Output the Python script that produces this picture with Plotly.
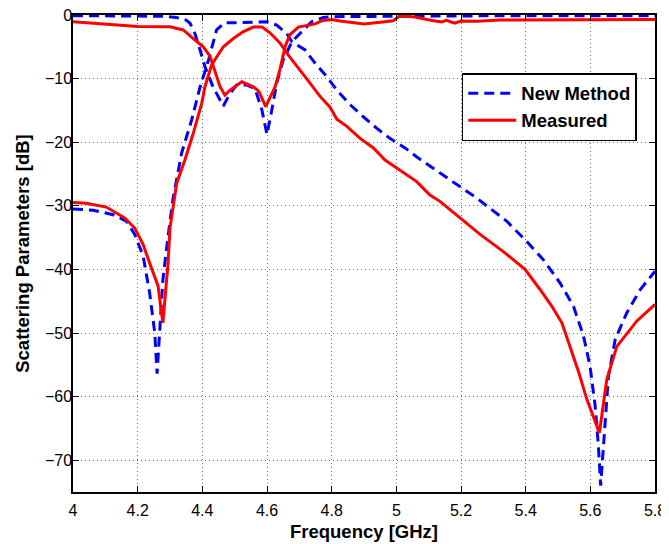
import plotly.graph_objects as go

# New Method (simulated) reflection S11
new_s11_f = [4.00, 4.10, 4.20, 4.28, 4.32, 4.35, 4.362, 4.377, 4.393, 4.408, 4.433, 4.465,
             4.486, 4.506, 4.537, 4.563, 4.584, 4.600, 4.615, 4.630, 4.650, 4.677, 4.712,
             4.738, 4.774, 4.80, 5.00, 5.20, 5.40, 5.60, 5.80]
new_s11_db = [-0.1, -0.1, -0.1, -0.2, -0.4, -0.8, -1.3, -2.9, -5.5, -8.1, -11.3, -14.3,
              -12.3, -11.0, -11.0, -11.6, -14.9, -18.8, -14.9, -10.7, -7.1, -4.2, -2.4,
              -1.05, -0.4, -0.26, -0.2, -0.1, -0.1, -0.1, -0.1]

# New Method transmission S21
new_s21_f = [4.00, 4.062, 4.124, 4.165, 4.191, 4.217, 4.237, 4.253, 4.260, 4.270, 4.278,
             4.294, 4.309, 4.336, 4.367, 4.393, 4.419, 4.444, 4.470, 4.52, 4.60, 4.63,
             4.661, 4.677, 4.718, 4.749, 4.785, 4.816, 4.857, 4.898, 4.939, 4.98, 5.027,
             5.068, 5.114, 5.156, 5.202, 5.249, 5.295, 5.341, 5.403, 5.455, 5.506, 5.548,
             5.579, 5.599, 5.615, 5.625, 5.632, 5.640, 5.656, 5.677, 5.713, 5.754, 5.80]
new_s21_db = [-30.5, -30.7, -31.4, -32.4, -34.5, -37.9, -43.7, -50.0, -56.4, -48.9, -41.6,
              -34.8, -29.0, -21.7, -16.5, -11.3, -7.1, -2.35, -1.2, -1.2, -1.05, -1.6,
              -2.9, -4.2, -5.5, -7.6, -9.7, -11.8, -14.1, -16.0, -17.8, -19.4, -20.9,
              -22.5, -24.1, -25.6, -27.2, -28.8, -30.6, -32.4, -35.6, -38.5, -42.1, -45.8,
              -50.5, -55.2, -61.5, -67.8, -74.0, -68.3, -56.8, -51.0, -46.8, -43.2, -40.3]

# Measured reflection S11
meas_s11_f = [4.00, 4.10, 4.20, 4.30, 4.341, 4.372, 4.403, 4.424, 4.444, 4.455, 4.47, 4.486,
              4.522, 4.558, 4.575, 4.596, 4.625, 4.64, 4.656, 4.671, 4.697, 4.723, 4.749,
              4.77, 4.80, 4.826, 4.90, 4.95, 4.99, 5.01, 5.05, 5.11, 5.14, 5.155, 5.18,
              5.20, 5.25, 5.32, 5.50, 5.80]
meas_s11_db = [-1.05, -1.4, -1.8, -1.85, -2.35, -3.7, -5.0, -6.5, -9.7, -11.3, -12.6, -11.8,
               -10.5, -11.3, -12.0, -14.4, -11.3, -8.6, -5.0, -3.1, -1.9, -1.6, -1.4,
               -0.9, -0.7, -0.95, -1.4, -1.15, -0.9, -0.16, -0.26, -0.85, -1.1, -0.85, -1.3,
               -0.95, -1.0, -0.8, -0.72, -0.7]

# Measured transmission S21
meas_s21_f = [4.00, 4.041, 4.103, 4.16, 4.191, 4.217, 4.237, 4.263, 4.278, 4.294, 4.30,
              4.321, 4.346, 4.372, 4.398, 4.408, 4.429, 4.465, 4.496, 4.527, 4.558, 4.585,
              4.609, 4.64, 4.666, 4.702, 4.733, 4.764, 4.795, 4.816, 4.847, 4.888, 4.929,
              4.965, 5.001, 5.063, 5.104, 5.135, 5.197, 5.259, 5.331, 5.398, 5.445, 5.481,
              5.512, 5.537, 5.563, 5.589, 5.615, 5.628, 5.651, 5.682, 5.744, 5.80]
meas_s21_db = [-29.5, -29.6, -30.2, -31.9, -33.5, -36.1, -39.0, -42.6, -48.4, -39.0, -33.5,
               -26.4, -22.8, -18.6, -13.9, -11.3, -7.8, -5.0, -3.7, -2.6, -1.9, -1.9,
               -2.8, -4.4, -6.3, -8.6, -10.7, -12.8, -14.5, -16.4, -17.5, -19.4, -20.9,
               -22.8, -24.1, -26.2, -28.3, -29.3, -31.9, -34.5, -37.2, -40.0, -43.2, -45.8,
               -48.4, -52.1, -56.0, -60.4, -63.8, -65.7, -57.3, -52.1, -48.1, -45.5]

x_ticks = [4, 4.2, 4.4, 4.6, 4.8, 5, 5.2, 5.4, 5.6, 5.8]
y_ticks = [-70, -60, -50, -40, -30, -20, -10, 0]

BLUE = "#0000ff"
RED = "#ff0000"
FONT = "Liberation Sans, Arial, Helvetica, sans-serif"
blue_line = dict(color=BLUE, width=3, dash="10px,6px")
red_line = dict(color=RED, width=3)

fig = go.Figure()
fig.add_trace(go.Scatter(x=new_s11_f, y=new_s11_db, mode="lines", line=blue_line,
                         name="<b>New Method</b>", legendgroup="new", showlegend=True))
fig.add_trace(go.Scatter(x=new_s21_f, y=new_s21_db, mode="lines", line=blue_line,
                         name="<b>New Method</b>", legendgroup="new", showlegend=False))
fig.add_trace(go.Scatter(x=meas_s11_f, y=meas_s11_db, mode="lines", line=red_line,
                         name="<b>Measured</b>", legendgroup="meas", showlegend=True))
fig.add_trace(go.Scatter(x=meas_s21_f, y=meas_s21_db, mode="lines", line=red_line,
                         name="<b>Measured</b>", legendgroup="meas", showlegend=False))

axis_common = dict(
    showline=True, linecolor="black", linewidth=1.5, mirror="ticks",
    ticks="inside", ticklen=6, tickwidth=1, tickcolor="black",
    showgrid=True, gridcolor="#6e6e6e", gridwidth=1, griddash="1px,3px",
    zeroline=False, tickfont=dict(family=FONT, size=16, color="black"),
    automargin=False, ticklabeloverflow="allow",
)

fig.update_xaxes(range=[4, 5.8], tickvals=x_ticks, ticktext=[f"{v:g}" for v in x_ticks],
                 ticklabelstandoff=3,
                 title=dict(text="<b>Frequency [GHz]</b>", font=dict(family=FONT, size=18.5, color="black"),
                            standoff=7),
                 **axis_common)
fig.update_yaxes(range=[-75, 0], tickvals=y_ticks,
                 ticktext=[("\u2212" + str(-v)) if v < 0 else str(v) for v in y_ticks],
                 ticklabelstandoff=-4,
                 title=dict(text="<b>Scattering Parameters [dB]</b>", font=dict(family=FONT, size=18.5, color="black"),
                            standoff=10),
                 **axis_common)

# The page body has an 8px default margin, so the figure is sized to fill
# the rest of the 669x544 window.
fig.update_layout(
    width=661, height=536,
    margin=dict(l=65, r=14, t=7, b=52, autoexpand=False),
    paper_bgcolor="white", plot_bgcolor="white",
    font=dict(family=FONT, color="black"),
    legend=dict(x=0.668, xanchor="left", y=0.878, yanchor="top",
                bgcolor="white", bordercolor="black", borderwidth=1.5,
                font=dict(family=FONT, size=18.5, color="black"),
                tracegroupgap=0, itemwidth=48),
    showlegend=True,
)

fig.write_html("out.html")
